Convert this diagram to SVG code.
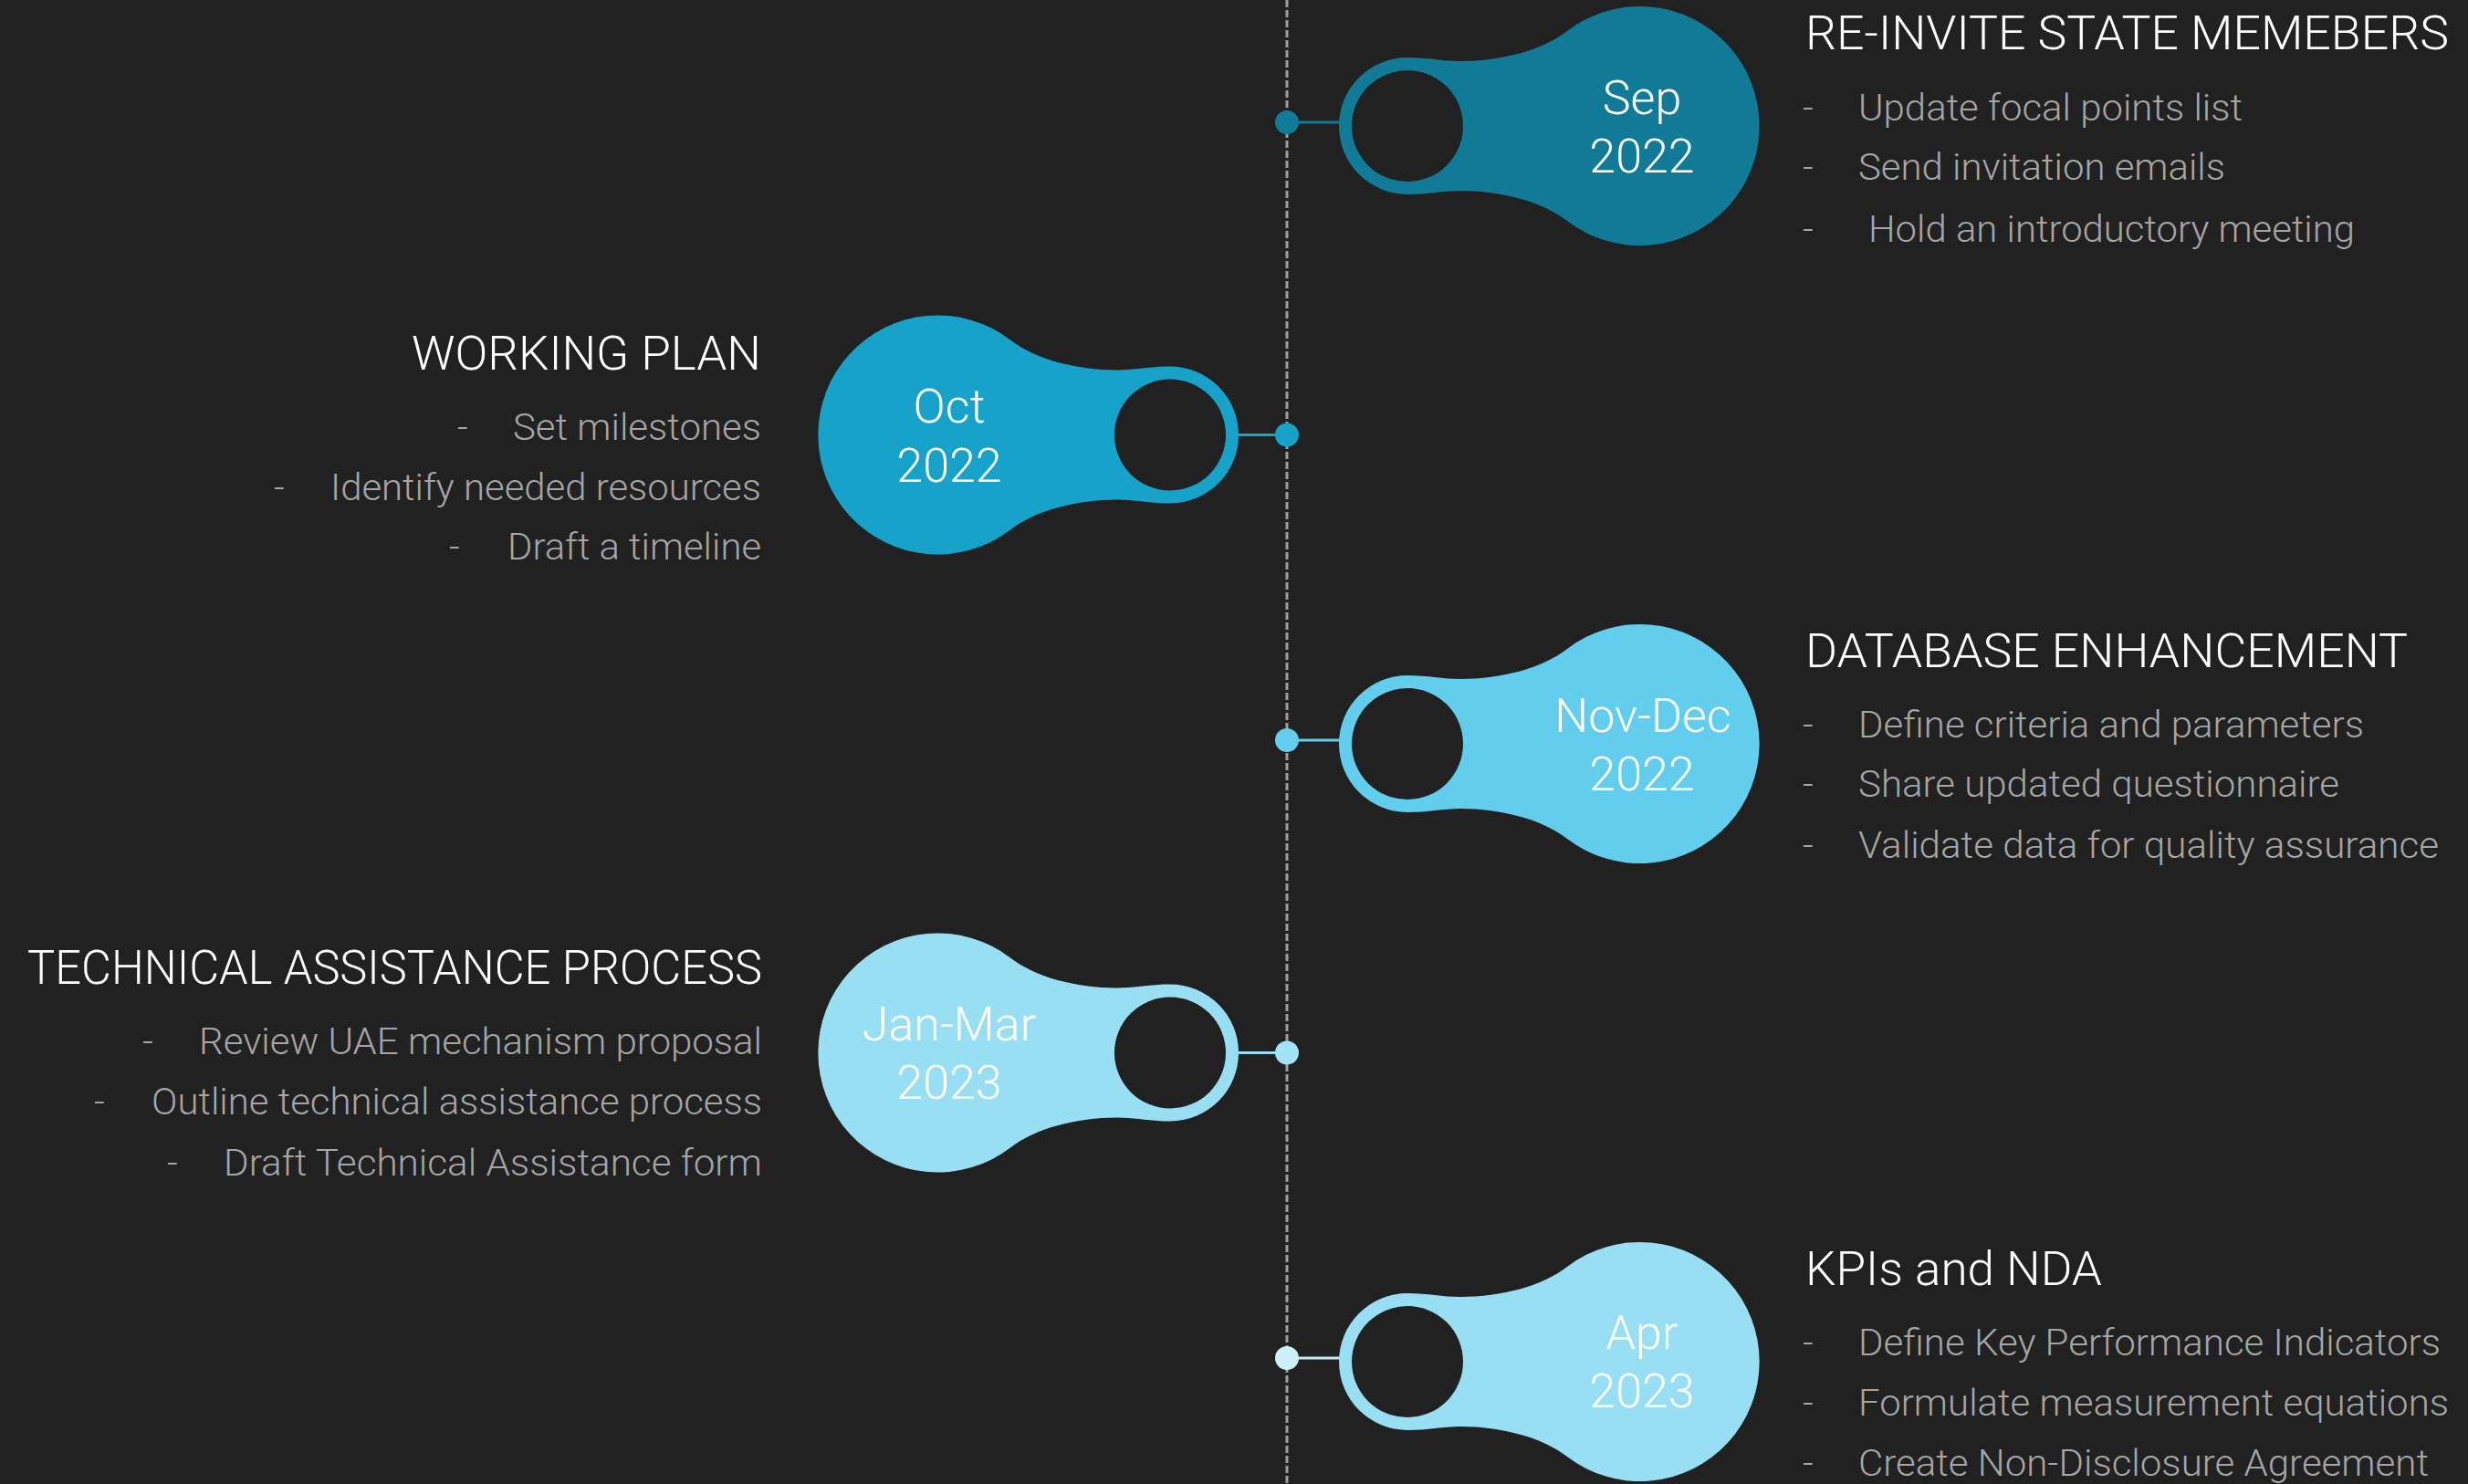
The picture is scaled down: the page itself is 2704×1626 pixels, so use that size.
<svg xmlns="http://www.w3.org/2000/svg" xmlns:xlink="http://www.w3.org/1999/xlink" width="2704" height="1626" viewBox="0 0 2704 1626">
<style>
.head{font-family:"Roboto Light",Roboto,"Liberation Sans",sans-serif;font-weight:300;font-size:52px;fill:#ffffff}
.item{font-family:"Roboto Light",Roboto,"Liberation Sans",sans-serif;font-weight:300;font-size:41px;fill:#a6a6a6}
.date{font-family:"Roboto Light",Roboto,"Liberation Sans",sans-serif;font-weight:300;font-size:52px;fill:#ffffff;text-anchor:middle}
.hole{fill:#212121}
.spine{stroke:#9e9e9e;stroke-width:3;stroke-dasharray:8 3;fill:none}
</style>
<defs>
<path id="drop" d="M 0 -75 C 23 -75 38 -71 58 -71 C 103 -71 148 -83 175 -104 A 131 131 0 1 1 175 104 C 148 83 103 71 58 71 C 38 71 23 75 0 75 A 75 75 0 0 1 0 -75 Z"/>
</defs>
<rect x="0" y="0" width="2704" height="1626" fill="#212121"/>
<g id="connectors">
<line class="spine" x1="1410" y1="0" x2="1410" y2="1626"/>
<line x1="1410" y1="134" x2="1468" y2="134" stroke="#117a96" stroke-width="3"/>
<circle cx="1410" cy="134" r="13" fill="#117a96"/>
<line x1="1356" y1="476.5" x2="1410" y2="476.5" stroke="#17a3c9" stroke-width="3"/>
<circle cx="1410" cy="476.5" r="13" fill="#17a3c9"/>
<line x1="1410" y1="811" x2="1468" y2="811" stroke="#62cded" stroke-width="3"/>
<circle cx="1410" cy="811" r="13" fill="#62cded"/>
<line x1="1356" y1="1153.5" x2="1410" y2="1153.5" stroke="#98dff4" stroke-width="3"/>
<circle cx="1410" cy="1153.5" r="13" fill="#a3e3f5"/>
<line x1="1410" y1="1488" x2="1468" y2="1488" stroke="#c8ecf6" stroke-width="3"/>
<circle cx="1410" cy="1488" r="13" fill="#cdeff8"/>
</g>
<g id="node-sep">
<use xlink:href="#drop" href="#drop" transform="translate(1542,138)" fill="#117a96"/>
<circle class="hole" cx="1542" cy="138" r="61"/>
<text class="date" x="1799" y="125">Sep</text>
<text class="date" x="1799" y="189">2022</text>
<text class="head" x="1978" y="54" textLength="705" lengthAdjust="spacingAndGlyphs">RE-INVITE STATE MEMEBERS</text>
<text class="item" x="1975" y="132">-</text>
<text class="item" x="2036" y="132" textLength="421" lengthAdjust="spacingAndGlyphs">Update focal points list</text>
<text class="item" x="1975" y="197">-</text>
<text class="item" x="2036" y="197" textLength="402" lengthAdjust="spacingAndGlyphs">Send invitation emails</text>
<text class="item" x="1975" y="265">-</text>
<text class="item" x="2047" y="265" textLength="533" lengthAdjust="spacingAndGlyphs">Hold an introductory meeting</text>
</g>
<g id="node-oct">
<use xlink:href="#drop" href="#drop" transform="translate(1282,476.5) scale(-1,1)" fill="#17a3c9"/>
<circle class="hole" cx="1282" cy="476.5" r="61"/>
<text class="date" x="1040" y="463">Oct</text>
<text class="date" x="1040" y="528">2022</text>
<text class="head" x="451" y="405" textLength="383" lengthAdjust="spacingAndGlyphs">WORKING PLAN</text>
<text class="item" x="501" y="482">-</text>
<text class="item" x="562" y="482" textLength="272" lengthAdjust="spacingAndGlyphs">Set milestones</text>
<text class="item" x="300" y="548">-</text>
<text class="item" x="362" y="548" textLength="472" lengthAdjust="spacingAndGlyphs">Identify needed resources</text>
<text class="item" x="492" y="613">-</text>
<text class="item" x="556" y="613" textLength="278" lengthAdjust="spacingAndGlyphs">Draft a timeline</text>
</g>
<g id="node-novdec">
<use xlink:href="#drop" href="#drop" transform="translate(1542,815)" fill="#62cded"/>
<circle class="hole" cx="1542" cy="815" r="61"/>
<text class="date" x="1800" y="802">Nov-Dec</text>
<text class="date" x="1799" y="866">2022</text>
<text class="head" x="1978" y="731" textLength="660" lengthAdjust="spacingAndGlyphs">DATABASE ENHANCEMENT</text>
<text class="item" x="1975" y="808">-</text>
<text class="item" x="2036" y="808" textLength="554" lengthAdjust="spacingAndGlyphs">Define criteria and parameters</text>
<text class="item" x="1975" y="873">-</text>
<text class="item" x="2036" y="873" textLength="527" lengthAdjust="spacingAndGlyphs">Share updated questionnaire</text>
<text class="item" x="1975" y="940">-</text>
<text class="item" x="2036" y="940" textLength="636" lengthAdjust="spacingAndGlyphs">Validate data for quality assurance</text>
</g>
<g id="node-janmar">
<use xlink:href="#drop" href="#drop" transform="translate(1282,1153.5) scale(-1,1)" fill="#98dff4"/>
<circle class="hole" cx="1282" cy="1153.5" r="61"/>
<text class="date" x="1040" y="1140">Jan-Mar</text>
<text class="date" x="1040" y="1204">2023</text>
<text class="head" x="30" y="1078" textLength="805" lengthAdjust="spacingAndGlyphs">TECHNICAL ASSISTANCE PROCESS</text>
<text class="item" x="156" y="1155">-</text>
<text class="item" x="218" y="1155" textLength="617" lengthAdjust="spacingAndGlyphs">Review UAE mechanism proposal</text>
<text class="item" x="103" y="1221">-</text>
<text class="item" x="166" y="1221" textLength="669" lengthAdjust="spacingAndGlyphs">Outline technical assistance process</text>
<text class="item" x="183" y="1288">-</text>
<text class="item" x="245" y="1288" textLength="590" lengthAdjust="spacingAndGlyphs">Draft Technical Assistance form</text>
</g>
<g id="node-apr">
<use xlink:href="#drop" href="#drop" transform="translate(1542,1492)" fill="#98dff4"/>
<circle class="hole" cx="1542" cy="1492" r="61"/>
<text class="date" x="1799" y="1478">Apr</text>
<text class="date" x="1799" y="1542">2023</text>
<text class="head" x="1978" y="1408" textLength="325" lengthAdjust="spacingAndGlyphs">KPIs and NDA</text>
<text class="item" x="1975" y="1485">-</text>
<text class="item" x="2036" y="1485" textLength="638" lengthAdjust="spacingAndGlyphs">Define Key Performance Indicators</text>
<text class="item" x="1975" y="1551">-</text>
<text class="item" x="2036" y="1551" textLength="647" lengthAdjust="spacingAndGlyphs">Formulate measurement equations</text>
<text class="item" x="1975" y="1617">-</text>
<text class="item" x="2036" y="1617" textLength="625" lengthAdjust="spacingAndGlyphs">Create Non-Disclosure Agreement</text>
</g>
</svg>
